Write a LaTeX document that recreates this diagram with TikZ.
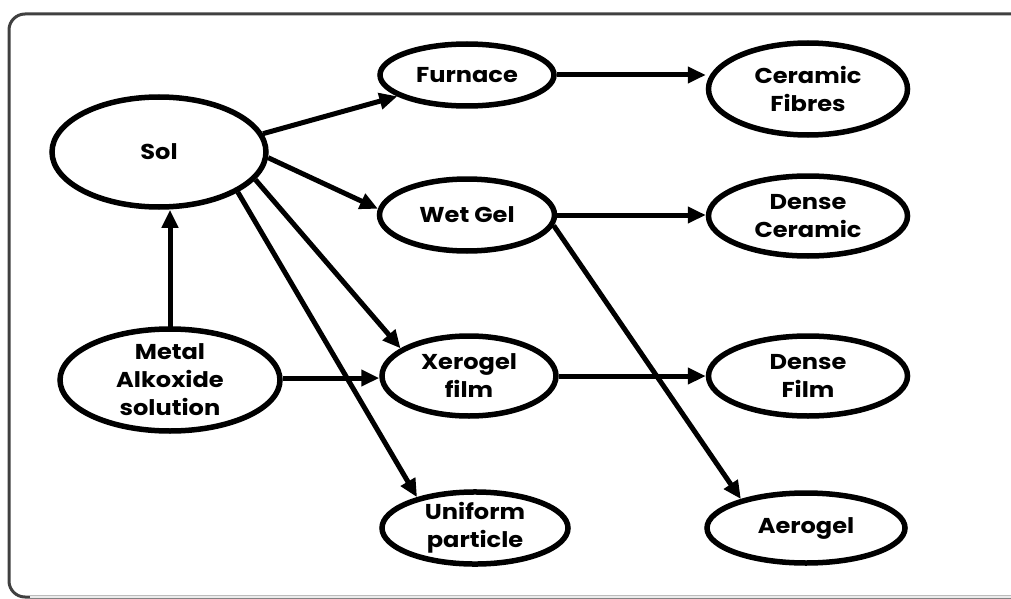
\documentclass[tikz,border=0pt]{standalone}
\usepackage{fontspec}
\setmainfont{Poppins}[FakeStretch=1.12]
\usetikzlibrary{shapes.geometric,arrows.meta}
\begin{document}
\begin{tikzpicture}[x=1pt,y=-1pt,
  blob/.style={ellipse,draw,line width=5.5pt,inner sep=0pt,align=center,
    font=\bfseries\fontsize{21.5}{28}\selectfont},
  conn/.style={line width=5pt,-{Triangle[length=18pt,width=16pt]}}]
\useasboundingbox (0,0) rectangle (1011,599);
\draw[line width=3pt,black!75,rounded corners=16pt] (1014,14) -- (9,14) -- (9,597) -- (1014,597);
\draw[line width=2pt,black!8] (30,597) -- (1011,597);
\node[blob,minimum width=214pt,minimum height=110pt] (sol) at (159,152) {Sol};
\node[blob,minimum width=220pt,minimum height=102pt] (metal) at (170,380) {Metal\\Alkoxide\\solution};
\node[blob,minimum width=174pt,minimum height=62pt] (furn) at (467,75) {Furnace};
\node[blob,minimum width=175pt,minimum height=72pt] (wet) at (467,215) {Wet Gel};
\node[blob,minimum width=174pt,minimum height=80pt] (xero) at (469,376) {Xerogel\\film};
\node[blob,minimum width=186pt,minimum height=70pt] (unif) at (475,528) {Uniform\\particle};
\node[blob,minimum width=199pt,minimum height=92pt] (cer) at (808,89) {Ceramic\\Fibres};
\node[blob,minimum width=199pt,minimum height=80pt] (dcer) at (808,216) {Dense\\Ceramic};
\node[blob,minimum width=199pt,minimum height=80pt] (dfilm) at (808,376) {Dense\\Film};
\node[blob,minimum width=198pt,minimum height=70pt] (aero) at (806,528) {Aerogel};
\draw[conn] (metal.north -| 170,0) ++(0,1) -- (sol.south -| 170,0);
\draw[conn] (metal.east |- 0,378) -- (xero.west |- 0,378);
\draw[conn] (sol.10) -- (furn.197);
\draw[conn] (sol.-3) -- (wet.176);
\draw[conn] (sol.-16) -- (xero.158);
\draw[conn] (sol.-27) -- (unif.152);
\draw[conn] (furn) -- (cer.west |- furn.east);
\draw[conn] (wet.east) -- (dcer.west |- wet.east);
\draw[conn] (wet.-7) -- (aero.156);
\draw[conn] (xero) -- (dfilm);
\end{tikzpicture}
\end{document}
